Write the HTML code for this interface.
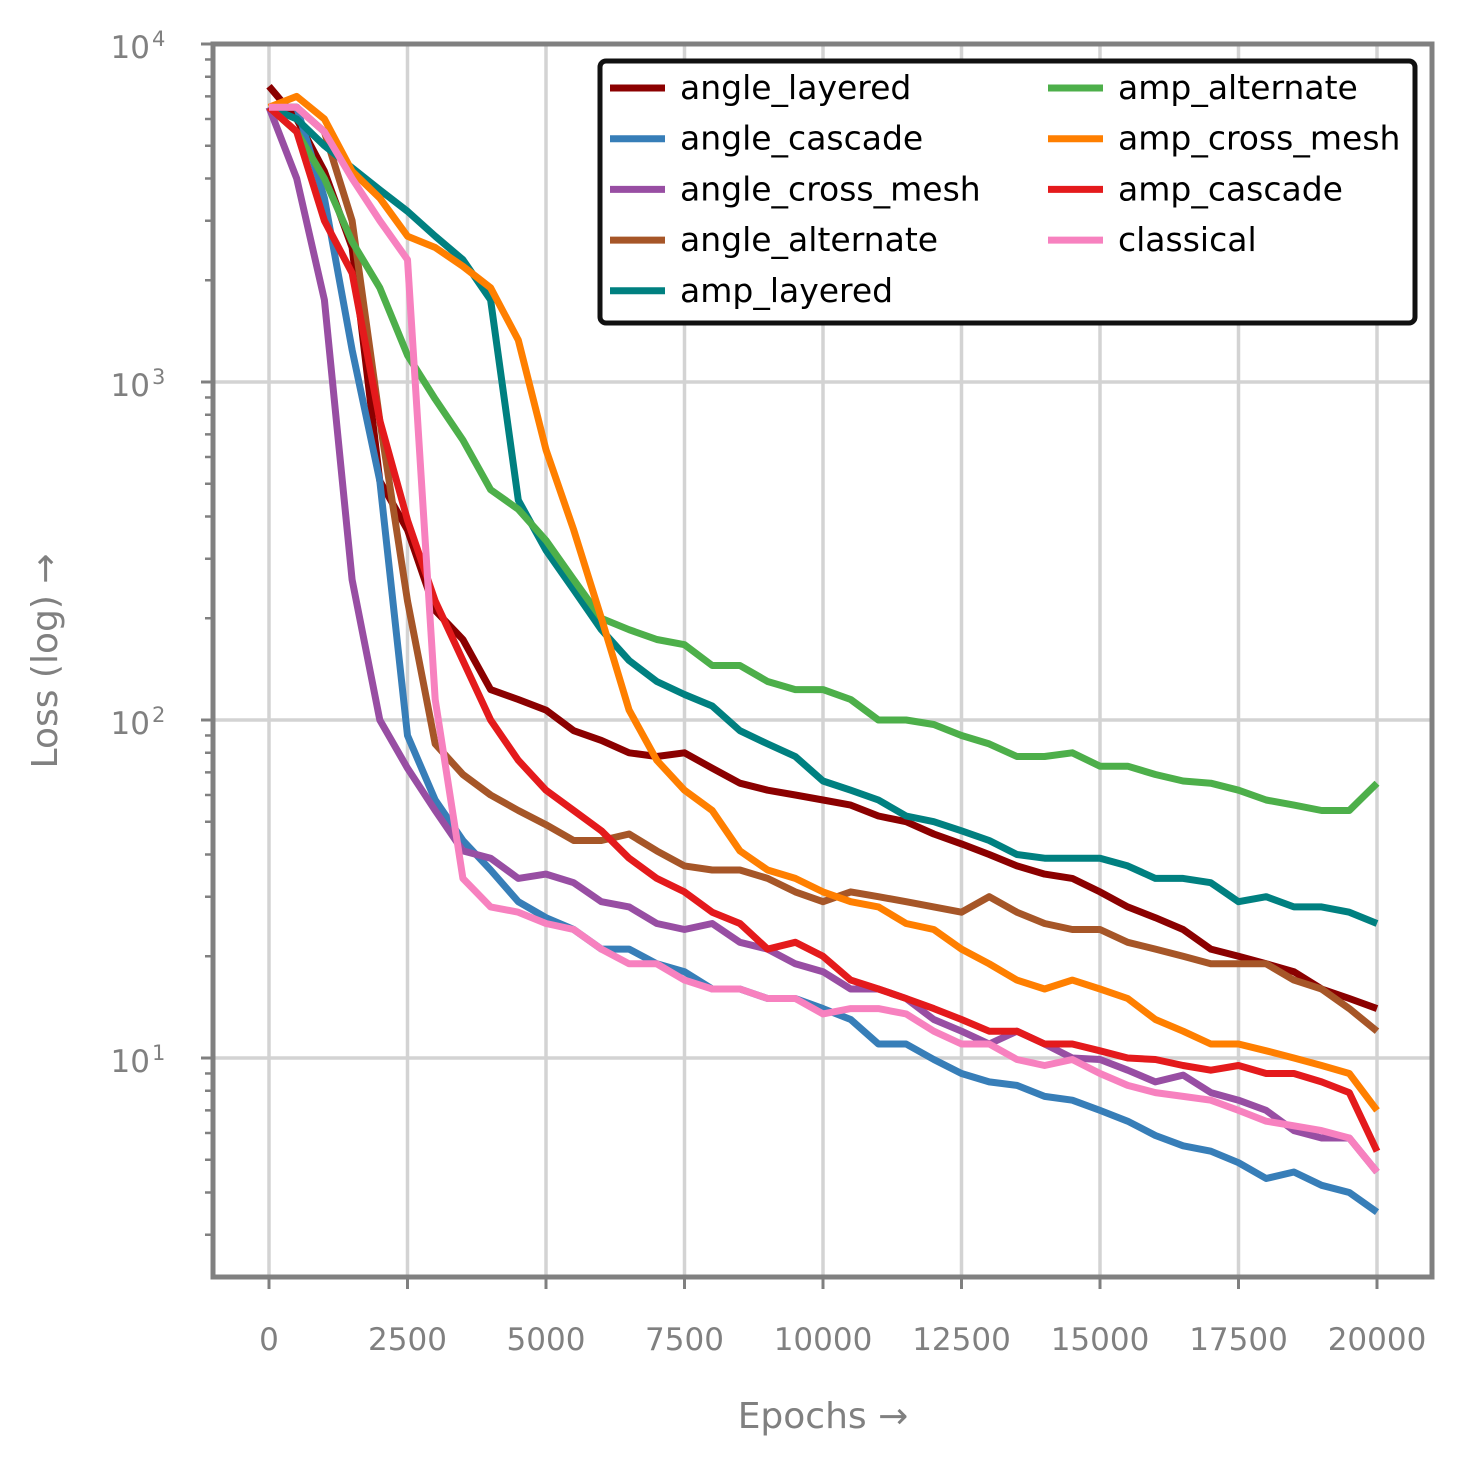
<!DOCTYPE html>
<html><head><meta charset="utf-8"><style>
html,body{margin:0;padding:0;background:#fff;}
svg{display:block;font-family:"DejaVu Sans","Liberation Sans",sans-serif;}
</style></head><body>
<svg id="chart" width="1462" height="1466" viewBox="0 0 1462 1466" xmlns="http://www.w3.org/2000/svg"></svg>
<script>
const epochs = [];
for (let e = 0; e <= 20000; e += 500) epochs.push(e);
const seriesNames = ["angle_layered","angle_cascade","angle_cross_mesh","angle_alternate","amp_layered","amp_alternate","amp_cross_mesh","amp_cascade","classical"];
const seriesColors = ["#8b0000","#377eb8","#984ea3","#a65628","#008080","#4daf4a","#ff7f00","#e41a1c","#f781bf"];
const angleLayered = [7500,6000,4200,2500,510,365,211,173,123,115,107,93,87,80,78,80,72,65,62,60,58,56,52,50,46,43,40,37,35,34,31,28,26,24,21,20,19,18,16,15,14];
const angleCascade = [6500,6500,3500,1245,510,90,58,44,36,29,26,24,21,21,19,18,16,16,15,15,14,13,11,11,9.9,9,8.5,8.3,7.7,7.5,7,6.5,5.9,5.5,5.3,4.9,4.4,4.6,4.2,4.0,3.5];
const angleCrossMesh = [6500,4000,1750,260,100,72,54,41,39,34,35,33,29,28,25,24,25,22,21,19,18,16,16,15,13,12,11,12,11,10,9.9,9.2,8.5,8.9,7.9,7.5,7,6.1,5.8,5.8,4.6];
const angleAlternate = [6500,6500,5500,3000,770,225,85,69,60,54,49,44,44,46,41,37,36,36,34,31,29,31,30,29,28,27,30,27,25,24,24,22,21,20,19,19,19,17,16,14,12];
const ampLayered = [6500,6000,5000,4300,3700,3200,2700,2300,1750,447,318,243,185,150,130,119,110,93,85,78,66,62,58,52,50,47,44,40,39,39,39,37,34,34,33,29,30,28,28,27,25];
const ampAlternate = [6500,5500,4000,2600,1900,1200,890,673,480,420,340,260,200,185,173,167,145,145,130,123,123,115,100,100,97,90,85,78,78,80,73,73,69,66,65,62,58,56,54,54,65];
const ampCrossMesh = [6500,7000,6000,4200,3500,2700,2500,2200,1900,1330,630,365,200,107,76,62,54,41,36,34,31,29,28,25,24,21,19,17,16,17,16,15,13,12,11,11,10.5,10,9.5,9,7];
const ampCascade = [6500,5500,3000,2100,770,390,225,150,100,76,62,54,47,39,34,31,27,25,21,22,20,17,16,15,14,13,12,12,11,11,10.5,10,9.9,9.5,9.2,9.5,9,9,8.5,7.9,5.3];
const classical = [6500,6500,5500,4000,3000,2300,115,34,28,27,25,24,21,19,19,17,16,16,15,15,13.5,14,14,13.5,12,11,11,9.9,9.5,9.9,9,8.3,7.9,7.7,7.5,7,6.5,6.3,6.1,5.8,4.6];
const seriesValues = [angleLayered,angleCascade,angleCrossMesh,angleAlternate,ampLayered,ampAlternate,ampCrossMesh,ampCascade,classical];
const xTicks = [0,2500,5000,7500,10000,12500,15000,17500,20000];
const yTicksExp = [1,2,3,4];

const NS = "http://www.w3.org/2000/svg";
const svg = document.getElementById("chart");
const L = 213, R = 1432, T = 44, B = 1277;
function xs(e){ return 269 + e * (1108/20000); }
function ys(v){ return 44 + (4 - Math.log10(v)) * 338; }
function mk(tag, attrs, parent){
  const el = document.createElementNS(NS, tag);
  for (const k in attrs) el.setAttribute(k, attrs[k]);
  (parent || svg).appendChild(el);
  return el;
}
const grid = mk("g", {});


xTicks.forEach(t => {
  const l = mk("line", {x1: xs(t), x2: xs(t), y1: T, y2: B, stroke: "#d3d3d3", "stroke-width": 3.5}, grid);
  
  
  const tk = mk("line", {x1: xs(t), x2: xs(t), y1: B, y2: B + 12, stroke: "#808080", "stroke-width": 3});
  
  
  const tx = mk("text", {x: xs(t), y: 1350, "text-anchor": "middle", "font-size": 31, fill: "#808080"});
  tx.textContent = String(t);
  
  
});
yTicksExp.forEach(p => {
  const y = ys(Math.pow(10, p));
  const l = mk("line", {x1: L, x2: R, y1: y, y2: y, stroke: "#d3d3d3", "stroke-width": 3.5}, grid);
  
  
  const tk = mk("line", {x1: L - 12, x2: L, y1: y, y2: y, stroke: "#808080", "stroke-width": 3});
  
  
  const tx = mk("text", {x: 150, y: y + 14, "text-anchor": "end", "font-size": 31, fill: "#808080"});
  tx.textContent = "10";
  
  
  const sup = mk("text", {x: 152, y: y + 2, "text-anchor": "start", "font-size": 21, fill: "#808080"});
  sup.textContent = String(p);
  
  
});
for (let p = 0; p < 4; p++) {
  for (let m = 2; m <= 9; m++) {
    const v = m * Math.pow(10, p);
    const y = ys(v);
    if (y > B) continue;
    const tk = mk("line", {x1: L - 8, x2: L, y1: y, y2: y, stroke: "#808080", "stroke-width": 2.5});
    
    
  }
}
const lines = mk("g", {fill: "none", "stroke-width": 7, "stroke-linejoin": "round", "stroke-linecap": "butt"});


seriesValues.forEach((vals, i) => {
  const d = vals.map((v, j) => (j ? "L" : "M") + xs(epochs[j]).toFixed(1) + "," + ys(v).toFixed(1)).join(" ");
  const p = mk("path", {d: d, stroke: seriesColors[i]}, lines);
  
  
});
const frame = mk("rect", {x: L, y: T, width: R - L, height: B - T, fill: "none", stroke: "#808080", "stroke-width": 5});


const xt = mk("text", {x: 823, y: 1428, "text-anchor": "middle", "font-size": 36, fill: "#808080"});
xt.textContent = "Epochs →";


const yt = mk("text", {x: 0, y: 0, "text-anchor": "middle", "font-size": 36, fill: "#808080", transform: "translate(57,661) rotate(-90)"});
yt.textContent = "Loss (log) →";


const leg = mk("g", {});


const lb = mk("rect", {x: 600, y: 61, width: 815, height: 262, rx: 6, fill: "#fff", stroke: "#111", "stroke-width": 5}, leg);


seriesNames.forEach((n, i) => {
  const col = i < 5 ? 0 : 1;
  const row = i < 5 ? i : i - 5;
  const lx = col ? 1048 : 610;
  const y = 88 + row * 50.7;
  const ln = mk("line", {x1: lx, x2: lx + 55, y1: y, y2: y, stroke: seriesColors[i], "stroke-width": 7}, leg);
  
  
  const tx = mk("text", {x: lx + 70, y: y + 11, "font-size": 33, fill: "#000"}, leg);
  tx.textContent = n;
  
  
});
</script>
</body></html>
